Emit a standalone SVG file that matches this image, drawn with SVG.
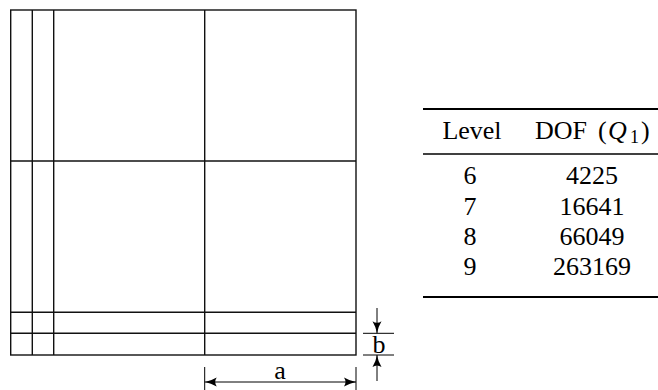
<svg xmlns="http://www.w3.org/2000/svg" width="658" height="390" viewBox="0 0 658 390">
<style>
.g{stroke:#111;stroke-width:1.4;fill:none}
.t{font-family:"Liberation Serif","DejaVu Serif",serif;font-size:26px;fill:#000}
.d{stroke:#000;stroke-width:1;fill:none}
</style>
<defs>
<marker id="ar" viewBox="0 0 12 10" refX="12" refY="5" markerWidth="12" markerHeight="10" orient="auto-start-reverse" markerUnits="userSpaceOnUse">
<path d="M0,0.5 Q6,4 12,5 Q6,6 0,9.5 Q3,5 0,0.5 Z" fill="#000"/>
</marker>
</defs>
<g id="mesh">
<rect class="g" x="10.7" y="10" width="345.3" height="345"/>
<line class="g" x1="32.3" y1="10" x2="32.3" y2="355"/>
<line class="g" x1="53.7" y1="10" x2="53.7" y2="355"/>
<line class="g" x1="204.7" y1="10" x2="204.7" y2="355"/>
<line class="g" x1="10.7" y1="161" x2="356" y2="161"/>
<line class="g" x1="10.7" y1="312.3" x2="356" y2="312.3"/>
<line class="g" x1="10.7" y1="333.3" x2="356" y2="333.3"/>
</g>
<g id="dim-b">
<line class="d" x1="363" y1="333.3" x2="394" y2="333.3"/>
<line class="d" x1="363" y1="355" x2="394" y2="355"/>
<line class="d" x1="377" y1="308" x2="377" y2="333.3" marker-end="url(#ar)"/>
<line class="d" x1="377" y1="381" x2="377" y2="355" marker-end="url(#ar)"/>
<text class="t" x="379" y="353" text-anchor="middle">b</text>
</g>
<g id="dim-a">
<line class="d" x1="204.7" y1="367" x2="204.7" y2="390"/>
<line class="d" x1="356" y1="367" x2="356" y2="390"/>
<line class="d" x1="204.7" y1="382" x2="356" y2="382" marker-start="url(#ar)" marker-end="url(#ar)"/>
<text class="t" x="280" y="379" text-anchor="middle">a</text>
</g>
<g id="table">
<line x1="423" y1="109" x2="658" y2="109" stroke="#000" stroke-width="2"/>
<line x1="423" y1="154" x2="658" y2="154" stroke="#000" stroke-width="1.3"/>
<line x1="423" y1="297" x2="658" y2="297" stroke="#000" stroke-width="2"/>
<text class="t" x="472" y="139" text-anchor="middle" font-size="27">Level</text>
<text class="t" y="139" font-size="27"><tspan x="535">DOF</tspan><tspan x="598">(</tspan><tspan x="608" font-style="italic">Q</tspan><tspan x="630" font-size="18" dy="4">1</tspan><tspan x="641" dy="-4">)</tspan></text>
<text class="t" x="470" y="184" text-anchor="middle">6</text>
<text class="t" x="592" y="184" text-anchor="middle">4225</text>
<text class="t" x="470" y="215" text-anchor="middle">7</text>
<text class="t" x="592" y="215" text-anchor="middle">16641</text>
<text class="t" x="470" y="245" text-anchor="middle">8</text>
<text class="t" x="592" y="245" text-anchor="middle">66049</text>
<text class="t" x="470" y="275" text-anchor="middle">9</text>
<text class="t" x="592" y="275" text-anchor="middle">263169</text>
</g>
</svg>
